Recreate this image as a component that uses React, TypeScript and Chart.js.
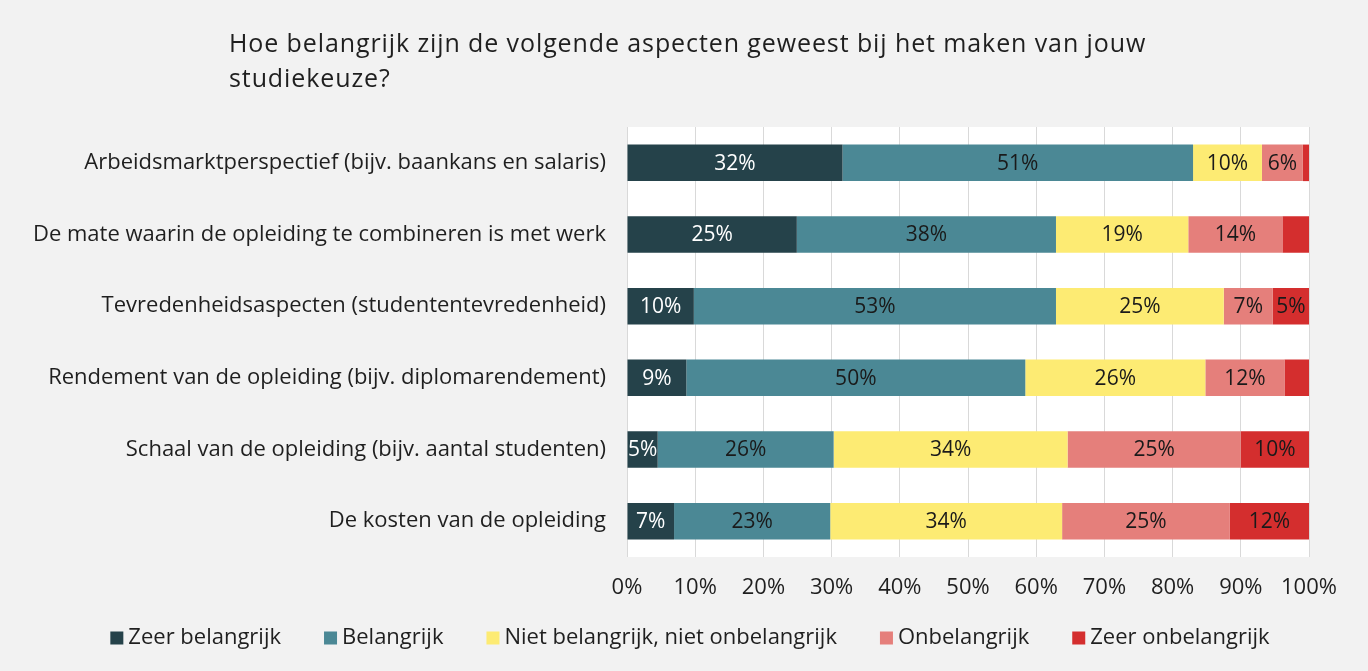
import React, { useEffect, useRef } from "react";
import { Chart, registerables } from "chart.js";

Chart.register(...registerables);

const categories = [
  "Arbeidsmarktperspectief (bijv. baankans en salaris)",
  "De mate waarin de opleiding te combineren is met werk",
  "Tevredenheidsaspecten (studententevredenheid)",
  "Rendement van de opleiding (bijv. diplomarendement)",
  "Schaal van de opleiding (bijv. aantal studenten)",
  "De kosten van de opleiding",
];

const seriesNames = [
  "Zeer belangrijk",
  "Belangrijk",
  "Niet belangrijk, niet onbelangrijk",
  "Onbelangrijk",
  "Zeer onbelangrijk",
];

const zeerBelangrijk = [31.6, 24.9, 9.8, 8.7, 4.5, 6.9];
const belangrijk = [51.4, 38.0, 53.1, 49.7, 25.8, 22.9];
const neutraal = [10.1, 19.4, 24.6, 26.4, 34.3, 34.0];
const onbelangrijk = [6.0, 13.8, 7.2, 11.6, 25.4, 24.6];
const zeerOnbelangrijk = [0.9, 3.9, 5.3, 3.6, 10.0, 11.6];

const xTicks = [0, 10, 20, 30, 40, 50, 60, 70, 80, 90, 100];

const titleLines = [
  "Hoe belangrijk zijn de volgende aspecten geweest bij het maken van jouw",
  "studiekeuze?",
];

const colors = ["#25424a", "#4b8895", "#fdeb73", "#e57f7b", "#d42e2e"];
const labelColors = ["#ffffff", "#1a1a1a", "#1a1a1a", "#1a1a1a", "#1a1a1a"];

const FONT = "'Open Sans'";
const TEXT = "#1f1f1f";

export default function App() {
  const ref = useRef<HTMLCanvasElement | null>(null);

  useEffect(() => {
    if (!ref.current) return;
    const values = [zeerBelangrijk, belangrijk, neutraal, onbelangrijk, zeerOnbelangrijk];

    const bgPlugin = {
      id: "bg",
      beforeDraw(chart: any) {
        const { ctx, chartArea } = chart;
        ctx.save();
        ctx.fillStyle = "#f2f2f2";
        ctx.fillRect(0, 0, chart.width, chart.height);
        ctx.fillStyle = "#ffffff";
        ctx.fillRect(chartArea.left, chartArea.top, chartArea.right - chartArea.left, chartArea.bottom - chartArea.top);
        ctx.restore();
      },
    };

    const labelPlugin = {
      id: "labels",
      afterDatasetsDraw(chart: any) {
        const { ctx } = chart;
        ctx.save();
        ctx.font = `21px ${FONT}`;
        ctx.textAlign = "center";
        ctx.textBaseline = "middle";
        chart.data.datasets.forEach((ds: any, di: number) => {
          const meta = chart.getDatasetMeta(di);
          meta.data.forEach((bar: any, i: number) => {
            const v = ds.data[i];
            if (v < 4.5) return;
            const x = (bar.x + bar.base) / 2;
            ctx.fillStyle = labelColors[di];
            ctx.fillText(Math.round(v) + "%", x, bar.y + 1);
          });
        });
        ctx.restore();
      },
    };

    const titlePlugin = {
      id: "customTitle",
      afterDraw(chart: any) {
        const { ctx } = chart;
        ctx.save();
        ctx.font = `25px ${FONT}`;
        (ctx as any).letterSpacing = "0.9px";
        ctx.fillStyle = TEXT;
        ctx.textAlign = "left";
        ctx.textBaseline = "alphabetic";
        titleLines.forEach((line, i) => ctx.fillText(line, 229, 52 + i * 35));
        ctx.restore();
      },
    };

    const legendPlugin = {
      id: "customLegend",
      afterDraw(chart: any) {
        const { ctx } = chart;
        ctx.save();
        ctx.font = `22px ${FONT}`;
        ctx.textBaseline = "middle";
        ctx.textAlign = "left";
        const box = 13;
        const gapBox = 5;
        const gapItem = 43;
        const widths = seriesNames.map((n) => box + gapBox + ctx.measureText(n).width);
        const total = widths.reduce((a, b) => a + b, 0) + gapItem * (widths.length - 1);
        let x = chart.width / 2 + 6 - total / 2;
        const y = 638;
        seriesNames.forEach((n, i) => {
          ctx.fillStyle = colors[i];
          ctx.fillRect(x, y - box / 2, box, box);
          ctx.fillStyle = TEXT;
          ctx.fillText(n, x + box + gapBox, y);
          x += widths[i] + gapItem;
        });
        ctx.restore();
      },
    };

    const chart = new Chart(ref.current, {
      type: "bar",
      data: {
        labels: categories,
        datasets: seriesNames.map((name, i) => ({
          label: name,
          data: values[i],
          backgroundColor: colors[i],
          borderWidth: 0,
          categoryPercentage: 1,
          barPercentage: 0.51,
        })),
      },
      options: {
        indexAxis: "y",
        responsive: false,
        animation: false,
        layout: { padding: { top: 127, left: 0, right: 59, bottom: 54 } },
        scales: {
          x: {
            stacked: true,
            min: 0,
            max: 100,
            afterBuildTicks(scale: any) {
              scale.ticks = xTicks.map((v) => ({ value: v }));
            },
            afterFit(scale: any) {
              scale.height = 60;
            },
            grid: { color: "#d9d9d9", lineWidth: 1, drawTicks: false },
            border: { display: false },
            ticks: {
              padding: 18,
              color: TEXT,
              font: { family: FONT, size: 22 },
              callback: (v: any) => v + "%",
            },
          },
          y: {
            stacked: true,
            afterFit(scale: any) {
              scale.width = 627;
            },
            grid: { display: false, drawTicks: false },
            border: { display: false },
            ticks: {
              padding: 21,
              color: TEXT,
              font: { family: FONT, size: 22 },
            },
          },
        },
        plugins: {
          title: { display: false },
          tooltip: { enabled: false },
          legend: { display: false },
        },
      },
      plugins: [bgPlugin, labelPlugin, titlePlugin, legendPlugin],
    } as any);

    return () => chart.destroy();
  }, []);

  return (
    <div style={{ position: "fixed", left: 0, top: 0, width: 1368, height: 671, background: "#f2f2f2" }}>
      <canvas ref={ref} width={1368} height={671} style={{ width: 1368, height: 671, display: "block" }} />
    </div>
  );
}
